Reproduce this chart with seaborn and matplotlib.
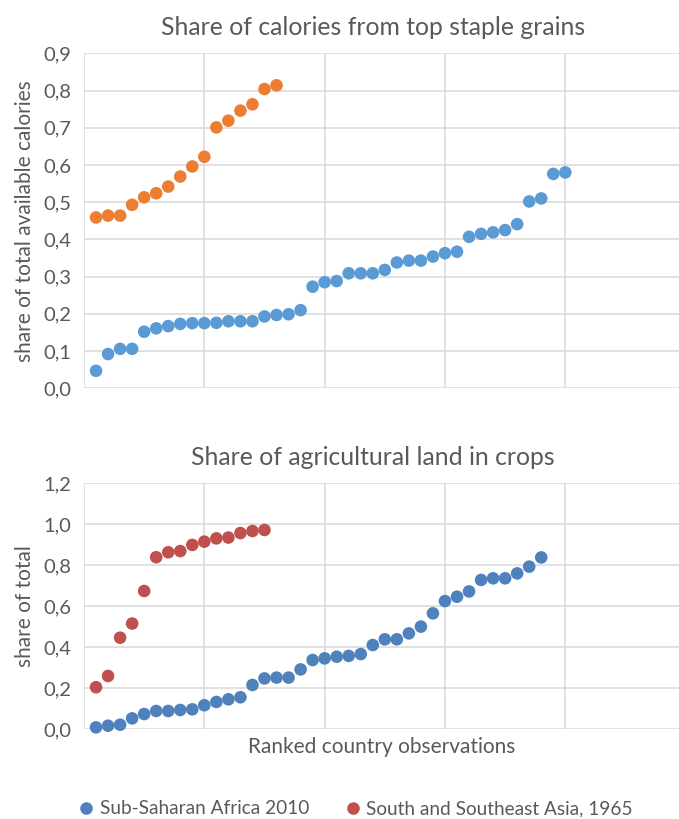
import numpy as np
import pandas as pd
import matplotlib
matplotlib.use("Agg")
import matplotlib.pyplot as plt
from matplotlib.ticker import FuncFormatter, MultipleLocator
import seaborn as sns

# =========================
# Datos
# =========================
cal_africa = [0.047, 0.092, 0.106, 0.106, 0.152, 0.161, 0.167, 0.173, 0.175, 0.175,
              0.176, 0.180, 0.180, 0.180, 0.193, 0.197, 0.199, 0.210, 0.273, 0.285,
              0.288, 0.309, 0.309, 0.309, 0.318, 0.338, 0.343, 0.343, 0.354, 0.363,
              0.367, 0.407, 0.415, 0.419, 0.425, 0.441, 0.502, 0.510, 0.576, 0.580]
cal_asia = [0.459, 0.464, 0.464, 0.493, 0.513, 0.524, 0.542, 0.569, 0.596, 0.622,
            0.701, 0.719, 0.746, 0.763, 0.804, 0.814]

land_africa = [0.008, 0.016, 0.021, 0.052, 0.073, 0.088, 0.088, 0.093, 0.096, 0.116,
               0.132, 0.145, 0.155, 0.215, 0.247, 0.251, 0.251, 0.291, 0.337, 0.345,
               0.353, 0.357, 0.366, 0.410, 0.438, 0.438, 0.467, 0.500, 0.565, 0.625,
               0.646, 0.672, 0.728, 0.736, 0.736, 0.760, 0.793, 0.838]
land_asia = [0.204, 0.259, 0.446, 0.515, 0.674, 0.839, 0.863, 0.869, 0.899, 0.915,
             0.931, 0.935, 0.957, 0.967, 0.972]

label_africa = "Sub-Saharan Africa 2010"
label_asia = "South and Southeast Asia, 1965"


def ranked(values, region):
    return pd.DataFrame({"rank": np.arange(1, len(values) + 1),
                         "share": values, "region": region})


df_cal = pd.concat([ranked(cal_africa, label_africa), ranked(cal_asia, label_asia)])
df_land = pd.concat([ranked(land_africa, label_africa), ranked(land_asia, label_asia)])

# =========================
# Estilo
# =========================
sns.set_style("white")
plt.rcParams["font.family"] = ["Lato", "DejaVu Sans"]
gris = "#595959"
rejilla = "#D9D9D9"

fig = plt.figure(figsize=(6.79, 8.19), dpi=100)
ax1 = fig.add_axes([84 / 679, 1 - 388.3 / 819, 595 / 679, 335 / 819])
ax2 = fig.add_axes([84 / 679, 1 - 729 / 819, 595 / 679, 245.7 / 819])

coma = FuncFormatter(lambda v, p: f"{v:.1f}".replace(".", ","))


def estilo(ax, ymax, ystep, titulo, ylabel):
    ax.set_xlim(0, 49.45)
    ax.set_ylim(0, ymax)
    ax.xaxis.set_major_locator(MultipleLocator(10))
    ax.yaxis.set_major_locator(MultipleLocator(ystep))
    ax.yaxis.set_major_formatter(coma)
    ax.grid(True, color=rejilla, linewidth=1.1)
    ax.set_axisbelow(True)
    for s in ax.spines.values():
        s.set_visible(False)
    ax.tick_params(axis="x", length=0, labelbottom=False)
    ax.tick_params(axis="y", length=0, labelsize=14.5, labelcolor=gris, pad=9)
    ax.set_title(titulo, fontsize=17.8, color=gris, pad=13, x=0.485)
    ax.set_ylabel(ylabel, fontsize=15, color=gris, labelpad=6)
    ax.set_xlabel("")


sns.scatterplot(data=df_cal, x="rank", y="share", hue="region",
                palette={label_africa: "#5B9BD5", label_asia: "#ED7D31"},
                s=82, linewidth=0, legend=False, ax=ax1, zorder=3, clip_on=False)
estilo(ax1, 0.9, 0.1, "Share of calories from top staple grains",
       "share of total available calories")

sns.scatterplot(data=df_land, x="rank", y="share", hue="region",
                palette={label_africa: "#4F81BD", label_asia: "#C0504D"},
                s=82, linewidth=0, ax=ax2, zorder=3, clip_on=False)
estilo(ax2, 1.2, 0.2, "Share of agricultural land in crops", "share of total")
ax2.set_xlabel("Ranked country observations", fontsize=15, color=gris, labelpad=6)

handles, labels = ax2.get_legend_handles_labels()
ax2.get_legend().remove()
fig.legend(handles, labels, loc="center", bbox_to_anchor=(350 / 679, 1 - 809 / 819),
           ncol=2, frameon=False, fontsize=13.7, labelcolor=gris,
           handletextpad=-0.3, columnspacing=1.3, markerscale=1.0)

plt.savefig("out.png", dpi=100)
